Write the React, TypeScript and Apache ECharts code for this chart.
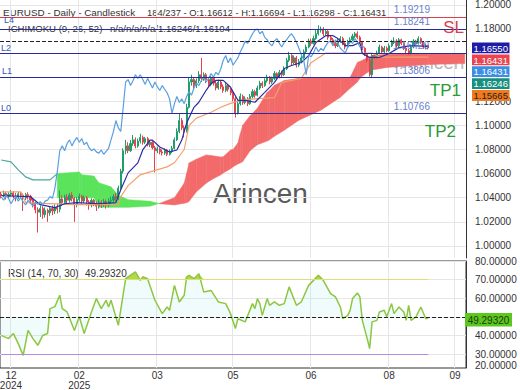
import React, { useEffect, useRef } from "react";
import * as echarts from "echarts";

const FONT = "'Liberation Sans', Arial, sans-serif";

// x slots (trading days incl. projected cloud area)
const SLOT_COUNT = 191;
const TICK_INDEX = [4, 32, 64, 95, 127, 159, 186];
const TICK_TEXT = ["12\n2024", "02\n2025", "03", "05", "06", "08", "09"];
const PRICE_TICKS = [1.0, 1.02, 1.04, 1.06, 1.08, 1.1, 1.12, 1.14, 1.16, 1.18, 1.2];
const PRICE_LABEL_TICKS = [1.0, 1.02, 1.04, 1.06, 1.08, 1.1, 1.12, 1.18, 1.2];
const RSI_LABEL_TICKS = [30, 40, 60, 70, 80];
const RSI_GRID_TICKS = [30, 40, 50, 60, 70, 80];
const RSI_BOTTOM_LABEL = "20.00000";

// [open, close, low, high]
const CANDLES: number[][] = [
  [1.0430, 1.0420, 1.0395, 1.0450], [1.0420, 1.0435, 1.0405, 1.0460], [1.0435, 1.0410, 1.0385, 1.0450],
  [1.0410, 1.0428, 1.0390, 1.0445], [1.0428, 1.0440, 1.0410, 1.0465], [1.0440, 1.0415, 1.0395, 1.0455],
  [1.0415, 1.0405, 1.0370, 1.0440], [1.0405, 1.0432, 1.0390, 1.0450], [1.0432, 1.0420, 1.0398, 1.0448],
  [1.0420, 1.0398, 1.0290, 1.0435], [1.0398, 1.0425, 1.0380, 1.0440], [1.0425, 1.0412, 1.0385, 1.0445],
  [1.0412, 1.0380, 1.0350, 1.0425], [1.0380, 1.0350, 1.0320, 1.0395], [1.0350, 1.0300, 1.0270, 1.0365],
  [1.0300, 1.0280, 1.0111, 1.0320], [1.0280, 1.0310, 1.0240, 1.0335], [1.0310, 1.0260, 1.0225, 1.0330],
  [1.0260, 1.0295, 1.0235, 1.0320], [1.0295, 1.0275, 1.0200, 1.0310], [1.0275, 1.0310, 1.0250, 1.0330],
  [1.0310, 1.0290, 1.0255, 1.0335], [1.0290, 1.0320, 1.0265, 1.0345], [1.0320, 1.0305, 1.0270, 1.0350],
  [1.0305, 1.0390, 1.0280, 1.0460], [1.0390, 1.0360, 1.0330, 1.0420], [1.0360, 1.0405, 1.0340, 1.0425],
  [1.0405, 1.0380, 1.0350, 1.0430], [1.0380, 1.0420, 1.0360, 1.0440], [1.0420, 1.0395, 1.0370, 1.0445],
  [1.0395, 1.0350, 1.0200, 1.0405], [1.0350, 1.0385, 1.0320, 1.0405], [1.0385, 1.0410, 1.0365, 1.0435],
  [1.0410, 1.0372, 1.0350, 1.0425], [1.0372, 1.0400, 1.0355, 1.0420], [1.0400, 1.0365, 1.0335, 1.0415],
  [1.0365, 1.0340, 1.0300, 1.0380], [1.0340, 1.0378, 1.0320, 1.0395], [1.0378, 1.0355, 1.0330, 1.0390],
  [1.0355, 1.0330, 1.0290, 1.0370], [1.0330, 1.0362, 1.0310, 1.0385], [1.0362, 1.0345, 1.0315, 1.0380],
  [1.0345, 1.0368, 1.0325, 1.0390], [1.0368, 1.0340, 1.0310, 1.0385], [1.0340, 1.0372, 1.0320, 1.0395],
  [1.0372, 1.0380, 1.0345, 1.0410], [1.0380, 1.0410, 1.0360, 1.0430], [1.0410, 1.0395, 1.0370, 1.0440],
  [1.0395, 1.0480, 1.0380, 1.0500], [1.0480, 1.0620, 1.0470, 1.0640], [1.0620, 1.0790, 1.0600, 1.0810],
  [1.0790, 1.0830, 1.0760, 1.0880], [1.0830, 1.0790, 1.0770, 1.0860], [1.0790, 1.0850, 1.0780, 1.0880],
  [1.0850, 1.0880, 1.0830, 1.0920], [1.0880, 1.0830, 1.0810, 1.0900], [1.0830, 1.0870, 1.0815, 1.0890],
  [1.0870, 1.0900, 1.0850, 1.0930], [1.0900, 1.0860, 1.0840, 1.0915], [1.0860, 1.0890, 1.0845, 1.0905],
  [1.0890, 1.0840, 1.0825, 1.0905], [1.0840, 1.0860, 1.0820, 1.0880], [1.0860, 1.0815, 1.0800, 1.0875],
  [1.0815, 1.0790, 1.0610, 1.0830], [1.0790, 1.0805, 1.0770, 1.0825], [1.0805, 1.0780, 1.0760, 1.0815],
  [1.0780, 1.0770, 1.0750, 1.0800], [1.0770, 1.0795, 1.0755, 1.0810], [1.0795, 1.0760, 1.0745, 1.0805],
  [1.0760, 1.0785, 1.0750, 1.0800], [1.0785, 1.0810, 1.0770, 1.0830], [1.0810, 1.0880, 1.0800, 1.0900],
  [1.0880, 1.0950, 1.0870, 1.0975], [1.0950, 1.1040, 1.0935, 1.1100], [1.1040, 1.0980, 1.0960, 1.1060],
  [1.0980, 1.0950, 1.0900, 1.1000], [1.0950, 1.1150, 1.0940, 1.1180], [1.1150, 1.1360, 1.1140, 1.1400],
  [1.1360, 1.1380, 1.1330, 1.1420], [1.1380, 1.1330, 1.1300, 1.1400], [1.1330, 1.1370, 1.1310, 1.1390],
  [1.1370, 1.1420, 1.1350, 1.1450], [1.1420, 1.1390, 1.1360, 1.1560], [1.1390, 1.1420, 1.1370, 1.1440],
  [1.1420, 1.1380, 1.1350, 1.1435], [1.1380, 1.1340, 1.1320, 1.1400], [1.1340, 1.1390, 1.1325, 1.1410],
  [1.1390, 1.1350, 1.1330, 1.1405], [1.1350, 1.1310, 1.1290, 1.1370], [1.1310, 1.1360, 1.1295, 1.1380],
  [1.1360, 1.1320, 1.1300, 1.1375], [1.1320, 1.1290, 1.1270, 1.1340], [1.1290, 1.1330, 1.1275, 1.1350],
  [1.1330, 1.1300, 1.1280, 1.1345], [1.1300, 1.1270, 1.1250, 1.1315], [1.1270, 1.1220, 1.1200, 1.1285],
  [1.1220, 1.1100, 1.1065, 1.1235], [1.1100, 1.1180, 1.1090, 1.1200], [1.1180, 1.1240, 1.1165, 1.1265],
  [1.1240, 1.1190, 1.1170, 1.1255], [1.1190, 1.1220, 1.1175, 1.1240], [1.1220, 1.1180, 1.1160, 1.1235],
  [1.1180, 1.1240, 1.1170, 1.1260], [1.1240, 1.1280, 1.1225, 1.1300], [1.1280, 1.1250, 1.1230, 1.1295],
  [1.1250, 1.1310, 1.1240, 1.1330], [1.1310, 1.1350, 1.1295, 1.1370], [1.1350, 1.1330, 1.1310, 1.1365],
  [1.1330, 1.1370, 1.1320, 1.1390], [1.1370, 1.1400, 1.1355, 1.1420], [1.1400, 1.1360, 1.1340, 1.1410],
  [1.1360, 1.1390, 1.1345, 1.1405], [1.1390, 1.1430, 1.1375, 1.1450], [1.1430, 1.1400, 1.1385, 1.1440],
  [1.1400, 1.1440, 1.1390, 1.1460], [1.1440, 1.1420, 1.1400, 1.1455], [1.1420, 1.1470, 1.1410, 1.1490],
  [1.1470, 1.1540, 1.1460, 1.1560], [1.1540, 1.1580, 1.1525, 1.1610], [1.1580, 1.1520, 1.1500, 1.1595],
  [1.1520, 1.1560, 1.1505, 1.1580], [1.1560, 1.1500, 1.1480, 1.1575], [1.1500, 1.1530, 1.1485, 1.1550],
  [1.1530, 1.1560, 1.1515, 1.1580], [1.1560, 1.1610, 1.1545, 1.1630], [1.1610, 1.1650, 1.1600, 1.1670],
  [1.1650, 1.1700, 1.1640, 1.1720], [1.1700, 1.1680, 1.1660, 1.1720], [1.1680, 1.1720, 1.1670, 1.1745],
  [1.1720, 1.1760, 1.1710, 1.1790], [1.1760, 1.1790, 1.1745, 1.1830], [1.1790, 1.1800, 1.1770, 1.1820],
  [1.1800, 1.1760, 1.1740, 1.1815], [1.1760, 1.1780, 1.1745, 1.1800], [1.1780, 1.1730, 1.1710, 1.1790],
  [1.1730, 1.1710, 1.1690, 1.1745], [1.1710, 1.1680, 1.1660, 1.1725], [1.1680, 1.1660, 1.1640, 1.1700],
  [1.1660, 1.1700, 1.1650, 1.1720], [1.1700, 1.1720, 1.1685, 1.1740], [1.1720, 1.1680, 1.1665, 1.1735],
  [1.1680, 1.1650, 1.1630, 1.1695], [1.1650, 1.1690, 1.1640, 1.1710], [1.1690, 1.1710, 1.1675, 1.1730],
  [1.1710, 1.1740, 1.1700, 1.1760], [1.1740, 1.1760, 1.1725, 1.1775], [1.1760, 1.1730, 1.1715, 1.1780],
  [1.1730, 1.1690, 1.1675, 1.1745], [1.1690, 1.1640, 1.1625, 1.1700], [1.1640, 1.1590, 1.1575, 1.1650],
  [1.1590, 1.1540, 1.1520, 1.1600], [1.1540, 1.1420, 1.1405, 1.1555], [1.1420, 1.1580, 1.1392, 1.1595],
  [1.1580, 1.1570, 1.1550, 1.1600], [1.1570, 1.1600, 1.1555, 1.1620], [1.1600, 1.1650, 1.1590, 1.1670],
  [1.1650, 1.1610, 1.1595, 1.1660], [1.1610, 1.1640, 1.1600, 1.1660], [1.1640, 1.1620, 1.1605, 1.1655],
  [1.1620, 1.1660, 1.1610, 1.1680], [1.1660, 1.1690, 1.1650, 1.1710], [1.1690, 1.1700, 1.1675, 1.1730],
  [1.1700, 1.1660, 1.1645, 1.1715], [1.1660, 1.1710, 1.1650, 1.1725], [1.1710, 1.1680, 1.1665, 1.1720],
  [1.1680, 1.1640, 1.1625, 1.1695], [1.1640, 1.1620, 1.1600, 1.1660], [1.1620, 1.1600, 1.1585, 1.1635],
  [1.1600, 1.1650, 1.1590, 1.1665], [1.1650, 1.1700, 1.1640, 1.1715], [1.1700, 1.1680, 1.1665, 1.1710],
  [1.1680, 1.1720, 1.1670, 1.1740], [1.1720, 1.1690, 1.1675, 1.1730], [1.1690, 1.1650, 1.1635, 1.1700],
  [1.1650, 1.1661, 1.1630, 1.1680], [1.16612, 1.16431, 1.16298, 1.16694],
];

// Ichimoku lines, [slot index, price]
const TENKAN: number[][] = [
  [0, 1.0417], [12, 1.0408], [16, 1.0342], [22, 1.0318], [26, 1.035], [31, 1.0359], [40, 1.035], [47, 1.0359],
  [49, 1.0466], [52, 1.0606], [56, 1.0689], [58, 1.0796], [61, 1.0878], [62, 1.0878], [65, 1.0821], [69, 1.0779],
  [72, 1.0796], [74, 1.0878], [76, 1.1019], [79, 1.115], [81, 1.1192], [84, 1.1291], [86, 1.1348], [88, 1.1373],
  [91, 1.1373], [94, 1.1316], [97, 1.1208], [100, 1.1208], [104, 1.1192], [108, 1.1274], [112, 1.1357], [116, 1.1472],
  [119, 1.1497], [123, 1.1522], [126, 1.1579], [129, 1.1687], [133, 1.1744], [136, 1.1744], [138, 1.172], [141, 1.1662],
  [144, 1.1662], [147, 1.1687], [148, 1.1596], [151, 1.1563], [155, 1.1563], [159, 1.1596], [163, 1.1645], [168, 1.1662],
  [175, 1.1655],
];
const KIJUN: number[][] = [
  [0, 1.0449], [8, 1.0449], [10, 1.036], [30, 1.0342], [48, 1.0342], [49, 1.0408], [52, 1.05], [57, 1.059],
  [61, 1.0614], [68, 1.0656], [71, 1.069], [75, 1.08], [77, 1.1], [80, 1.106], [86, 1.1109], [90, 1.115],
  [94, 1.1183], [98, 1.1208], [104, 1.122], [112, 1.123], [115, 1.1357], [123, 1.139], [127, 1.152], [133, 1.16],
  [152, 1.16], [155, 1.1567], [175, 1.15665],
];
const CHIKOU_SHIFT = 26;
const CLOUD_IDX = [0, 4, 7, 10, 13, 20, 23, 32, 33, 38, 40, 45, 48, 52, 61, 65, 71, 75, 76, 77, 80, 84, 86, 90, 91, 94,
  95, 97, 98, 99, 102, 105, 109, 110, 112, 116, 122, 131, 139, 143, 146, 147, 150, 152, 158, 175, 190];
const SPAN_A = [1.0713, 1.0697, 1.0631, 1.0573, 1.0548, 1.0548, 1.06, 1.0614, 1.059, 1.058, 1.0524, 1.049, 1.042,
  1.0384, 1.037, 1.035, 1.034, 1.0355, 1.0359, 1.037, 1.0449, 1.052, 1.0548, 1.059, 1.0606, 1.064, 1.0656, 1.068,
  1.0689, 1.07, 1.079, 1.084, 1.087, 1.088, 1.091, 1.096, 1.1043, 1.1126, 1.1233, 1.1307, 1.136, 1.139, 1.1439,
  1.146, 1.148, 1.1505, 1.1513];
const SPAN_B: (number | null)[] = [null, null, null, null, null, null, 1.04, 1.04, 1.04, 1.04, 1.032, 1.032, 1.032,
  1.032, 1.033, 1.0355, 1.04, 1.052, 1.06, 1.0689, 1.072, 1.0755, 1.075, 1.0738, 1.074, 1.0796, 1.08, 1.0854,
  1.093, 1.1002, 1.108, 1.1142, 1.1274, 1.129, 1.1332, 1.1373, 1.139, 1.1395, 1.1398, 1.1398, 1.1522, 1.153,
  1.156, 1.1579, 1.159, 1.1596, 1.1596];

// RSI(14), [slot index, value]
const RSI: number[][] = [
  [0, 40.0], [3, 38.3], [5, 41.0], [7, 35.6], [9, 29.3], [11, 42.7], [13, 38.3], [15, 34.7], [17, 40.0], [19, 41.0],
  [20, 54.4], [22, 55.5], [24, 61.6], [25, 54.4], [27, 52.6], [30, 42.7], [32, 50.0], [34, 41.0], [37, 52.6],
  [39, 59.8], [41, 54.4], [43, 58.9], [44, 55.3], [45, 58.9], [48, 45.4], [51, 70.5], [52, 71.5], [55, 74.1],
  [57, 69.6], [58, 71.5], [60, 70.5], [63, 58.9], [66, 51.7], [68, 55.3], [69, 53.5], [71, 66.9], [73, 58.0],
  [75, 61.6], [76, 71.5], [77, 72.3], [79, 70.5], [81, 73.2], [83, 63.4], [86, 64.2], [89, 58.0], [92, 57.1],
  [94, 51.7], [96, 43.7], [97, 49.0], [100, 47.3], [103, 57.1], [104, 54.4], [105, 59.8], [106, 57.1], [107, 50.8],
  [109, 59.8], [110, 56.2], [112, 58.0], [114, 56.2], [116, 57.1], [118, 66.1], [121, 56.2], [123, 58.0],
  [126, 66.9], [128, 69.6], [130, 72.3], [132, 69.6], [135, 62.5], [137, 60.7], [139, 55.3], [140, 49.0],
  [142, 50.8], [143, 53.5], [144, 59.8], [146, 62.8], [147, 60.7], [148, 48.1], [150, 38.3], [151, 32.9],
  [152, 47.3], [154, 48.1], [155, 52.6], [157, 53.5], [158, 50.0], [160, 57.1], [161, 51.7], [163, 55.3],
  [165, 52.6], [166, 48.1], [167, 56.2], [168, 48.1], [170, 50.0], [172, 55.3], [174, 49.0], [175, 49.2932],
];

// Horizontal levels
const SL_LEVEL = 1.19219;
const L4_LEVEL = 1.18241;
const L2_LEVEL = 1.1642;
const DASHED_LEVELS = [1.1655, 1.16431, 1.16246, 1.16104, 1.15665];
const TP1_LEVEL = 1.1406;
const L1_LEVEL = 1.13806;
const L0_LEVEL = 1.10766;
const TP2_LEVEL = 1.10766;

// Right-hand price tags
const TAG_VALUES = ["1.16550", "1.16431", "1.16431", "1.16246", "1.15665"];
const TAG_COLORS = ["#1c1ca6", "#e8434f", "#3a8fe4", "#17907f", "#f07a1c"];
const TAG_TEXT_COLORS = ["#fff", "#fff", "#fff", "#fff", "#222"];
const RSI_LAST = "49.29320";

const HEADER_1A = "EURUSD - Daily - Candlestick";
const HEADER_1B = "184/237 - O:1.16612 - H:1.16694 - L:1.16298 - C:1.16431";
const HEADER_2A = "ICHIMOKU (9, 26, 52)";
const HEADER_2B = "n/a/n/a/n/a/1.16246/1.16104";
const RSI_HEADER_A = "RSI (14, 70, 30)";
const RSI_HEADER_B = "49.29320";

export default function App() {
  const ref = useRef<HTMLDivElement>(null);

  useEffect(() => {
    if (!ref.current) return;
    const chart = echarts.init(ref.current, undefined, { renderer: "svg" });
    const categories = Array.from({ length: SLOT_COUNT }, (_, i) => String(i));
    const isTick = (i: number) => TICK_INDEX.indexOf(i) >= 0;
    const chikou = CANDLES.slice(CHIKOU_SHIFT).map((c, i) => [i, c[1]]);
    const overbought = RSI.map(([i, v]) => [i, Math.max(v, 70)]);

    const plain = (v: number, color: string, type: string = "solid") => ({
      yAxis: v,
      lineStyle: { color, width: 1, type, opacity: 1 },
      label: { show: false },
    });
    const textOnly = (v: number, text: string, position: string, color: string, fontSize: number, extra: any = {}) => ({
      yAxis: v,
      lineStyle: { color: "rgba(0,0,0,0)", width: 1, opacity: 1 },
      label: { show: true, formatter: text, position, color, fontSize, fontFamily: FONT, opacity: 1, ...extra },
    });
    const headerText = (x: number, y: number, text: string, size: number) => ({
      type: "text", x, y, z: 0,
      style: { text, fill: "#333", fontSize: size, fontFamily: FONT, verticalAlign: "middle" },
    });

    const splitX = { show: true, interval: (i: number) => isTick(i), lineStyle: { color: "#e6e6e6", width: 1 } };

    const option: any = {
      animation: false,
      textStyle: { fontFamily: FONT },
      grid: [
        { left: 0, top: 0, width: 466, height: 258, outerBoundsMode: "none" },
        { left: 0, top: 261, width: 466, height: 107, show: true, borderColor: "#333", borderWidth: 1, outerBoundsMode: "none" },
      ],
      xAxis: [
        {
          type: "category", gridIndex: 0, data: categories, boundaryGap: true,
          axisLine: { show: false }, axisTick: { show: false }, axisLabel: { show: false }, splitLine: splitX,
        },
        {
          type: "category", gridIndex: 1, data: categories, boundaryGap: true,
          axisLine: { show: false }, axisTick: { show: false }, splitLine: splitX,
          axisLabel: {
            show: true, interval: (i: number) => isTick(i),
            formatter: (_v: string, i: number) => TICK_TEXT[TICK_INDEX.indexOf(i)] || "",
            fontSize: 10, color: "#333", lineHeight: 10, margin: 2,
          },
        },
      ],
      yAxis: [
        {
          type: "value", gridIndex: 0, position: "right", min: 0.99, max: 1.204,
          axisLine: { show: true, lineStyle: { color: "#333" } },
          axisTick: { show: false, customValues: PRICE_TICKS },
          axisLabel: { customValues: PRICE_LABEL_TICKS, formatter: (v: number) => v.toFixed(5), fontSize: 10, color: "#333", margin: 9 },
          splitLine: { show: true, lineStyle: { color: "#e6e6e6" } },
        },
        {
          type: "value", gridIndex: 1, position: "right", min: 22.5, max: 80,
          axisLine: { show: true, lineStyle: { color: "#333" } },
          axisTick: { show: false, customValues: RSI_GRID_TICKS },
          axisLabel: { customValues: RSI_LABEL_TICKS, formatter: (v: number) => v.toFixed(5), fontSize: 10, color: "#333", margin: 9 },
          splitLine: { show: true, lineStyle: { color: "#e6e6e6" } },
        },
      ],
      series: [
        {
          type: "custom", name: "cloud", xAxisIndex: 0, yAxisIndex: 0, z: 1, clip: true,
          data: CLOUD_IDX.map((x, i) => [x, SPAN_A[i]]),
          encode: { x: 0, y: 1 },
          renderItem: (params: any, api: any) => {
            const i = params.dataIndex;
            if (i >= CLOUD_IDX.length - 1) return null;
            const b0 = SPAN_B[i], b1 = SPAN_B[i + 1];
            if (b0 == null || b1 == null) return null;
            const a0 = SPAN_A[i], a1 = SPAN_A[i + 1];
            const pts = [
              api.coord([CLOUD_IDX[i], a0]), api.coord([CLOUD_IDX[i + 1], a1]),
              api.coord([CLOUD_IDX[i + 1], b1]), api.coord([CLOUD_IDX[i], b0]),
            ];
            const green = a0 + a1 > b0 + b1;
            return {
              type: "polygon",
              shape: { points: pts },
              style: { fill: green ? "#5be35b" : "#f26a6a", stroke: green ? "#5be35b" : "#f26a6a", lineWidth: 0.5 },
            };
          },
        },
        {
          type: "line", name: "spanA", xAxisIndex: 0, yAxisIndex: 0, z: 2,
          data: CLOUD_IDX.slice(0, 7).map((x, i) => [x, SPAN_A[i]]),
          symbol: "none", lineStyle: { color: "#4aa6a0", width: 1.2 },
        },
        {
          type: "candlestick", name: "EURUSD", xAxisIndex: 0, yAxisIndex: 0, z: 3, barWidth: 1.6,
          data: CANDLES,
          itemStyle: { color: "#1f9e6c", color0: "#e2434f", borderColor: "#1f9e6c", borderColor0: "#e2434f", borderWidth: 1 },
          markLine: {
            silent: true, symbol: ["none", "none"], animation: false,
            data: [
              plain(SL_LEVEL, "#d8404c"),
              textOnly(SL_LEVEL, "SL", "insideEndBottom", "#d8404c", 17, { distance: 2 }),
              textOnly(SL_LEVEL, SL_LEVEL.toFixed(5), "insideEndTop", "#6b7fcf", 10, { padding: [0, 34, 0, 0], distance: 2 }),
              plain(L4_LEVEL, "#2a2a9c"),
              textOnly(L4_LEVEL, "L4", "insideStartTop", "#3358c0", 9, { distance: 4 }),
              textOnly(L4_LEVEL, L4_LEVEL.toFixed(5), "insideEndTop", "#6b7fcf", 10, { padding: [0, 34, 0, 0], distance: 2 }),
              ...DASHED_LEVELS.map((v) => plain(v, "#222", "dashed")),
              plain(L2_LEVEL, "#2a2a9c"),
              textOnly(L2_LEVEL, "L2", "insideStartTop", "#3358c0", 9, { distance: 1 }),
              textOnly(L2_LEVEL, L2_LEVEL.toFixed(5), "insideEndTop", "#6b7fcf", 10, { padding: [0, 34, 0, 0], distance: 3 }),
              plain(TP1_LEVEL, "#3a8a3a"),
              textOnly(TP1_LEVEL, "TP1", "insideEndBottom", "#2b9a35", 17),
              plain(L1_LEVEL, "#2a2a9c"),
              textOnly(L1_LEVEL, "L1", "insideStartTop", "#3358c0", 9, { distance: 2 }),
              textOnly(L1_LEVEL, L1_LEVEL.toFixed(5), "insideEndTop", "#6b7fcf", 10, { padding: [0, 34, 0, 0], distance: 2 }),
              plain(TP2_LEVEL, "#3a8a3a"),
              textOnly(TP2_LEVEL, "TP2", "insideEndBottom", "#2b9a35", 17, { distance: 10 }),
              plain(L0_LEVEL, "#2a2a9c"),
              textOnly(L0_LEVEL, "L0", "insideStartTop", "#3358c0", 9, { distance: 1 }),
              textOnly(L0_LEVEL, L0_LEVEL.toFixed(5), "insideEndTop", "#6b7fcf", 10, { padding: [0, 34, 0, 0], distance: 2 }),
            ],
          },
        },
        {
          type: "line", name: "kijun", xAxisIndex: 0, yAxisIndex: 0, z: 4, data: KIJUN,
          symbol: "none", lineStyle: { color: "#f2a06e", width: 1.2 },
        },
        {
          type: "line", name: "tenkan", xAxisIndex: 0, yAxisIndex: 0, z: 4, data: TENKAN,
          symbol: "none", lineStyle: { color: "#2b2ba6", width: 1.2 },
        },
        {
          type: "line", name: "chikou", xAxisIndex: 0, yAxisIndex: 0, z: 4, data: chikou,
          symbol: "none", lineStyle: { color: "#5a9fe0", width: 1.2 },
        },
        {
          type: "line", name: "rsiFill", xAxisIndex: 1, yAxisIndex: 1, z: 2, data: RSI,
          symbol: "none", lineStyle: { width: 0, opacity: 0 },
          areaStyle: { origin: 50, color: "rgba(170,240,240,0.25)" },
        },
        {
          type: "line", name: "overbought", xAxisIndex: 1, yAxisIndex: 1, z: 3, data: overbought,
          symbol: "none", lineStyle: { width: 0, opacity: 0 },
          areaStyle: { origin: 70, color: "#b4d944", opacity: 1 },
        },
        {
          type: "line", name: "RSI", xAxisIndex: 1, yAxisIndex: 1, z: 4, data: RSI,
          symbol: "none", lineStyle: { color: "#8dc641", width: 1.5 },
          markLine: {
            silent: true, symbol: ["none", "none"], animation: false, label: { show: false },
            data: [
              [
                { xAxis: 0, yAxis: 70, lineStyle: { color: "#dede7a", width: 1.2, type: "solid" } },
                { xAxis: 175, yAxis: 70, lineStyle: { color: "#dede7a", width: 1.2, type: "solid" } },
              ],
              [
                { xAxis: 0, yAxis: 30, lineStyle: { color: "#b78ae6", width: 1.2, type: "solid" } },
                { xAxis: 175, yAxis: 30, lineStyle: { color: "#b78ae6", width: 1.2, type: "solid" } },
              ],
              { yAxis: 50, lineStyle: { color: "#222", width: 1, type: "dashed" } },
            ],
          },
        },
      ],
      graphic: [
        headerText(3, 12.5, HEADER_1A, 9.9),
        headerText(147, 12.5, HEADER_1B, 9.4),
        headerText(8, 28.5, HEADER_2A, 9.6),
        headerText(110, 28.5, HEADER_2B, 9.6),
        { type: "text", x: 213, y: 193, z: 0, style: { text: "Arincen", fill: "#5a5a5a", fontSize: 28, fontFamily: FONT, verticalAlign: "middle" } },
        { type: "text", x: 400, y: 62, z: 0, style: { text: "Arincen", fill: "rgba(110,110,110,0.5)", fontSize: 19, fontFamily: FONT, verticalAlign: "middle" } },
        headerText(8, 273, RSI_HEADER_A, 10),
        headerText(85, 273, RSI_HEADER_B, 10),
        {
          type: "group", x: 473, y: 359.5, z: 100,
          children: [
            { type: "rect", shape: { x: 0, y: 0, width: 42, height: 10.5 }, style: { fill: "#ffffff" }, z: 100 },
            { type: "text", x: 2, y: 5.5, z: 101, style: { text: RSI_BOTTOM_LABEL, fill: "#333", fontSize: 10, fontFamily: FONT, align: "left", verticalAlign: "middle" } },
          ],
        },
        ...TAG_VALUES.map((t, i) => ({
          type: "group", x: 472, y: 42.5 + i * 11.9, z: 100,
          children: [
            { type: "rect", shape: { x: 0, y: 0, width: 37.5, height: 10.8 }, style: { fill: TAG_COLORS[i] }, z: 100 },
            { type: "text", x: 18.75, y: 5.6, z: 101, style: { text: t, fill: TAG_TEXT_COLORS[i], fontSize: 9.5, fontFamily: FONT, align: "center", verticalAlign: "middle" } },
          ],
        })),
        {
          type: "group", x: 465, y: 313, z: 100,
          children: [
            { type: "rect", shape: { x: 0, y: 0, width: 47, height: 13.5 }, style: { fill: "#5cc81f" }, z: 100 },
            { type: "text", x: 23.5, y: 7, z: 101, style: { text: RSI_LAST, fill: "#1c3a00", fontSize: 10, fontFamily: FONT, align: "center", verticalAlign: "middle" } },
          ],
        },
      ],
    };

    chart.setOption(option);
    return () => chart.dispose();
  }, []);

  return <div ref={ref} style={{ position: "absolute", left: 0, top: 0, width: 520, height: 390 }} />;
}
